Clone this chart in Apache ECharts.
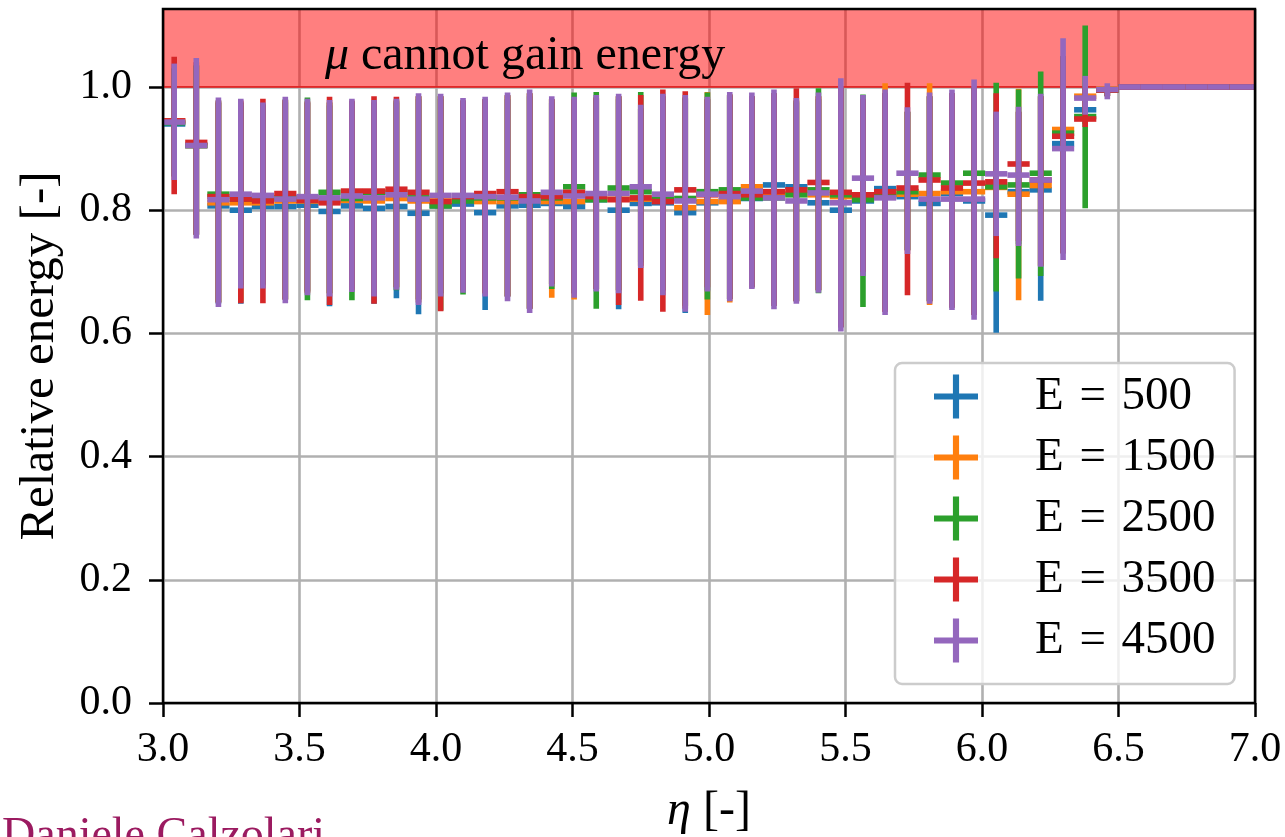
<!DOCTYPE html>
<html>
<head>
<meta charset="utf-8">
<script src="https://cdn.jsdelivr.net/npm/echarts@6/dist/echarts.min.js"></script>
<style>
  html, body { margin: 0; padding: 0; background: #ffffff; }
  #chart { width: 1285px; height: 837px; }
</style>
</head>
<body>
<div id="chart"></div>
<script>
// Bin centres in eta (43 bins over 3.0-6.5, then the saturated bins up to 7.0)
const etaCenters = [
  3.041, 3.122, 3.203, 3.285, 3.366, 3.448, 3.529, 3.610, 3.692, 3.773,
  3.855, 3.936, 4.017, 4.099, 4.180, 4.262, 4.343, 4.424, 4.506, 4.587,
  4.669, 4.750, 4.831, 4.913, 4.994, 5.076, 5.157, 5.238, 5.320, 5.401,
  5.483, 5.564, 5.645, 5.727, 5.808, 5.890, 5.971, 6.052, 6.134, 6.215,
  6.297, 6.378, 6.459,
  6.541, 6.622, 6.703, 6.785, 6.866, 6.948, 7.029
];
const binWidth = 0.0814;

const seriesNames = ['E\u2004=\u2004500', 'E\u2004=\u20041500', 'E\u2004=\u20042500', 'E\u2004=\u20043500', 'E\u2004=\u20044500'];
const seriesColors = ['#1f77b4', '#ff7f0e', '#2ca02c', '#d62728', '#9467bd'];

const yTicks = [0.0, 0.2, 0.4, 0.6, 0.8, 1.0];

// E = 500
const mid500 = [0.940, 0.905, 0.807, 0.800, 0.806, 0.806, 0.808, 0.798, 0.807, 0.803, 0.806, 0.795, 0.807, 0.810, 0.796, 0.807, 0.808, 0.811, 0.806, 0.817, 0.800, 0.811, 0.812, 0.796, 0.812, 0.815, 0.819, 0.841, 0.838, 0.812, 0.800, 0.815, 0.835, 0.822, 0.811, 0.827, 0.815, 0.792, 0.830, 0.833, 0.908, 0.963, 0.995, 1, 1, 1, 1, 1, 1, 1];
const lo500 = [0.855, 0.760, 0.648, 0.648, 0.680, 0.655, 0.668, 0.644, 0.672, 0.648, 0.657, 0.631, 0.665, 0.670, 0.638, 0.660, 0.640, 0.680, 0.665, 0.672, 0.639, 0.710, 0.670, 0.633, 0.670, 0.656, 0.675, 0.645, 0.652, 0.670, 0.610, 0.700, 0.635, 0.735, 0.652, 0.642, 0.630, 0.601, 0.745, 0.653, 0.730, 0.940, 0.985, 1, 1, 1, 1, 1, 1, 1];
const hi500 = [1.030, 1.035, 0.975, 0.970, 0.970, 0.975, 0.975, 0.970, 0.975, 0.970, 0.975, 0.980, 0.980, 0.975, 0.975, 0.980, 0.985, 0.975, 0.975, 0.980, 0.980, 0.965, 0.980, 0.980, 0.980, 0.985, 0.985, 0.990, 0.975, 0.980, 1.000, 0.980, 0.990, 0.960, 0.985, 0.990, 1.000, 0.950, 0.960, 0.985, 1.050, 0.990, 1.000, 1, 1, 1, 1, 1, 1, 1];

// E = 1500
const mid1500 = [0.945, 0.905, 0.812, 0.812, 0.812, 0.815, 0.815, 0.815, 0.816, 0.815, 0.819, 0.815, 0.815, 0.818, 0.814, 0.814, 0.818, 0.814, 0.814, 0.818, 0.818, 0.818, 0.818, 0.804, 0.814, 0.814, 0.838, 0.822, 0.827, 0.825, 0.822, 0.822, 0.825, 0.826, 0.827, 0.830, 0.830, 0.837, 0.826, 0.840, 0.931, 0.985, 0.997, 1, 1, 1, 1, 1, 1, 1];
const lo1500 = [0.855, 0.760, 0.650, 0.652, 0.680, 0.655, 0.668, 0.665, 0.672, 0.665, 0.675, 0.655, 0.665, 0.670, 0.665, 0.660, 0.640, 0.658, 0.655, 0.672, 0.670, 0.710, 0.670, 0.645, 0.630, 0.650, 0.675, 0.645, 0.652, 0.670, 0.610, 0.700, 0.635, 0.735, 0.646, 0.642, 0.630, 0.765, 0.654, 0.710, 0.730, 0.950, 0.985, 1, 1, 1, 1, 1, 1, 1];
const hi1500 = [1.030, 1.035, 0.975, 0.975, 0.970, 0.978, 0.975, 0.975, 0.975, 0.975, 0.978, 0.985, 0.985, 0.978, 0.980, 0.985, 0.990, 0.980, 0.980, 0.983, 0.985, 0.965, 0.985, 0.983, 0.992, 0.988, 0.985, 0.990, 0.978, 0.985, 1.000, 0.980, 1.006, 0.960, 1.006, 0.990, 1.000, 0.955, 0.997, 0.985, 1.050, 1.000, 1.000, 1, 1, 1, 1, 1, 1, 1];

// E = 2500
const mid2500 = [0.942, 0.905, 0.826, 0.818, 0.818, 0.820, 0.820, 0.829, 0.819, 0.829, 0.829, 0.820, 0.807, 0.815, 0.820, 0.820, 0.825, 0.820, 0.838, 0.817, 0.836, 0.830, 0.820, 0.819, 0.830, 0.833, 0.820, 0.820, 0.825, 0.833, 0.825, 0.817, 0.825, 0.830, 0.857, 0.844, 0.860, 0.838, 0.841, 0.860, 0.925, 0.952, 0.995, 1, 1, 1, 1, 1, 1, 1];
const lo2500 = [0.855, 0.760, 0.650, 0.678, 0.678, 0.655, 0.654, 0.665, 0.654, 0.665, 0.670, 0.655, 0.637, 0.663, 0.665, 0.660, 0.640, 0.672, 0.665, 0.640, 0.670, 0.715, 0.670, 0.645, 0.655, 0.656, 0.675, 0.645, 0.652, 0.665, 0.610, 0.643, 0.640, 0.735, 0.652, 0.642, 0.630, 0.668, 0.689, 0.693, 0.730, 0.803, 0.985, 1, 1, 1, 1, 1, 1, 1];
const hi2500 = [1.030, 1.035, 0.978, 0.975, 0.972, 0.980, 0.983, 0.975, 0.977, 0.975, 0.978, 0.985, 0.985, 0.978, 0.980, 0.987, 0.990, 0.980, 0.991, 0.992, 0.985, 0.992, 0.985, 0.983, 0.991, 0.988, 0.985, 0.990, 0.978, 0.998, 1.000, 0.988, 0.990, 0.960, 0.985, 0.990, 1.000, 1.007, 0.996, 1.025, 1.050, 1.100, 1.000, 1, 1, 1, 1, 1, 1, 1];

// E = 3500
const mid3500 = [0.945, 0.910, 0.822, 0.818, 0.815, 0.827, 0.816, 0.812, 0.831, 0.831, 0.834, 0.829, 0.814, 0.822, 0.827, 0.830, 0.822, 0.822, 0.829, 0.822, 0.817, 0.820, 0.814, 0.833, 0.825, 0.827, 0.825, 0.830, 0.833, 0.845, 0.829, 0.825, 0.830, 0.836, 0.849, 0.836, 0.844, 0.846, 0.875, 0.849, 0.920, 0.948, 0.995, 1, 1, 1, 1, 1, 1, 1];
const lo3500 = [0.826, 0.760, 0.650, 0.649, 0.649, 0.655, 0.665, 0.646, 0.670, 0.648, 0.675, 0.650, 0.636, 0.670, 0.665, 0.660, 0.640, 0.680, 0.665, 0.672, 0.646, 0.653, 0.635, 0.640, 0.675, 0.656, 0.675, 0.645, 0.652, 0.670, 0.610, 0.700, 0.635, 0.662, 0.652, 0.642, 0.630, 0.722, 0.750, 0.710, 0.730, 0.935, 0.985, 1, 1, 1, 1, 1, 1, 1];
const hi3500 = [1.049, 1.040, 0.978, 0.978, 0.981, 0.979, 0.977, 0.984, 0.978, 0.985, 0.984, 0.985, 0.985, 0.978, 0.980, 0.987, 0.990, 0.980, 0.980, 0.983, 0.985, 0.987, 0.996, 0.993, 0.980, 0.988, 0.985, 0.990, 0.998, 0.985, 1.000, 0.980, 0.990, 1.007, 0.985, 0.990, 1.000, 0.990, 0.960, 0.985, 1.050, 1.000, 1.000, 1, 1, 1, 1, 1, 1, 1];

// E = 4500
const mid4500 = [0.943, 0.905, 0.817, 0.826, 0.824, 0.818, 0.822, 0.820, 0.823, 0.820, 0.825, 0.818, 0.824, 0.824, 0.822, 0.821, 0.815, 0.829, 0.823, 0.827, 0.827, 0.838, 0.826, 0.815, 0.826, 0.822, 0.831, 0.820, 0.815, 0.828, 0.812, 0.852, 0.820, 0.860, 0.818, 0.818, 0.818, 0.859, 0.857, 0.849, 0.900, 0.982, 0.996, 1, 1, 1, 1, 1, 1, 1];
const lo4500 = [0.849, 0.754, 0.643, 0.673, 0.673, 0.649, 0.662, 0.660, 0.667, 0.660, 0.671, 0.646, 0.660, 0.666, 0.660, 0.652, 0.633, 0.676, 0.658, 0.668, 0.665, 0.706, 0.662, 0.635, 0.668, 0.652, 0.672, 0.639, 0.648, 0.666, 0.603, 0.693, 0.630, 0.729, 0.648, 0.638, 0.622, 0.758, 0.742, 0.708, 0.719, 0.955, 0.980, 1, 1, 1, 1, 1, 1, 1];
const hi4500 = [1.038, 1.047, 0.983, 0.981, 0.975, 0.984, 0.981, 0.979, 0.981, 0.979, 0.981, 0.990, 0.989, 0.982, 0.984, 0.991, 0.996, 0.985, 0.984, 0.987, 0.989, 0.971, 0.989, 0.987, 0.984, 0.992, 0.991, 0.996, 0.982, 0.991, 1.014, 0.987, 0.996, 0.967, 0.991, 0.996, 1.012, 0.960, 0.968, 0.989, 1.079, 1.018, 1.006, 1, 1, 1, 1, 1, 1, 1];

const mids = [mid500, mid1500, mid2500, mid3500, mid4500];
const los = [lo500, lo1500, lo2500, lo3500, lo4500];
const his = [hi500, hi1500, hi2500, hi3500, hi4500];

// Physical limit: relative energy above 1 is forbidden
const forbiddenFrom = 1.0;
const yMax = 1.1266;

const serif = '"Liberation Serif", "DejaVu Serif", serif';
const lineW = 5.6;

function errorBarItem(params, api) {
  const eta = api.value(0);
  const c = api.coord([eta, api.value(1)]);
  const yLo = api.coord([eta, api.value(2)])[1];
  const yHi = api.coord([eta, api.value(3)])[1];
  const halfW = api.size([binWidth, 0])[0] / 2;
  const fill = api.visual('color');
  return {
    type: 'group',
    children: [
      { type: 'rect', shape: { x: c[0] - lineW / 2, y: yHi, width: lineW, height: Math.max(yLo - yHi, 0) }, style: { fill: fill } },
      { type: 'rect', shape: { x: c[0] - halfW, y: c[1] - lineW / 2, width: 2 * halfW, height: lineW }, style: { fill: fill } }
    ]
  };
}

const errorSeries = seriesNames.map((name, k) => ({
  name: name,
  type: 'custom',
  clip: true,
  z: 3,
  itemStyle: { color: seriesColors[k] },
  renderItem: errorBarItem,
  encode: { x: 0, y: 1 },
  data: etaCenters.map((eta, i) => [eta, mids[k][i], los[k][i], his[k][i]])
}));

const zoneSeries = {
  name: 'zone',
  type: 'line',
  data: [],
  z: 2,
  silent: true,
  markArea: {
    silent: true,
    itemStyle: { color: 'rgba(255,0,0,0.5)', borderColor: 'rgba(225,20,20,0.75)', borderWidth: 2 },
    data: [[{ yAxis: forbiddenFrom }, { yAxis: yMax }]]
  },
  markPoint: {
    silent: true,
    symbol: 'rect',
    symbolSize: 0,
    data: [{ coord: [3.593, 1.049] }],
    label: {
      show: true,
      position: 'right',
      distance: 0,
      formatter: '{m|μ}{t|\u00a0cannot gain energy}',
      rich: {
        m: { fontFamily: serif, fontStyle: 'italic', fontSize: 48, color: '#000' },
        t: { fontFamily: serif, fontSize: 48, color: '#000' }
      }
    }
  }
};

const chart = echarts.init(document.getElementById('chart'), null, { renderer: 'canvas' });
chart.setOption({
  animation: false,
  backgroundColor: '#ffffff',
  color: seriesColors,
  grid: {
    left: 163, right: 30, top: 9, bottom: 134,
    outerBoundsMode: 'none',
    show: true, z: 5,
    borderColor: '#000', borderWidth: 2.5,
    backgroundColor: 'transparent'
  },
  legend: {
    data: seriesNames,
    orient: 'vertical',
    left: 895, top: 363,
    padding: [10, 19, 20, 39],
    itemWidth: 44, itemHeight: 44, itemGap: 14,
    icon: 'path://M0,4.3H10V5.7H0Z M4.3,0H5.7V10H4.3Z',
    backgroundColor: 'rgba(255,255,255,0.8)',
    borderColor: '#cccccc', borderWidth: 2.5, borderRadius: 7,
    textStyle: { fontFamily: serif, fontSize: 47, lineHeight: 44, color: '#000', padding: [0, 0, 0, 52] }
  },
  xAxis: {
    type: 'value',
    min: 3, max: 7, interval: 0.5,
    name: '{e|η} [-]',
    nameLocation: 'middle',
    nameGap: 84,
    nameTextStyle: {
      fontFamily: serif, fontSize: 48, color: '#000',
      rich: { e: { fontFamily: serif, fontStyle: 'italic', fontSize: 48, color: '#000' } }
    },
    axisLine: { show: false },
    axisTick: { show: true, inside: false, length: 14, lineStyle: { color: '#000', width: 2.5 } },
    axisLabel: { fontFamily: serif, fontSize: 42, color: '#000', margin: 26, formatter: v => v.toFixed(1) },
    splitLine: { show: true, lineStyle: { color: '#b0b0b0', width: 2.6 } }
  },
  yAxis: {
    type: 'value',
    min: 0, max: yMax, interval: 0.2,
    name: 'Relative energy [-]',
    nameLocation: 'middle',
    nameGap: 98,
    nameRotate: 90,
    nameTextStyle: { fontFamily: serif, fontSize: 49, color: '#000' },
    axisLine: { show: false },
    axisTick: { show: true, inside: false, length: 14, customValues: yTicks, lineStyle: { color: '#000', width: 2.5 } },
    axisLabel: { fontFamily: serif, fontSize: 42, color: '#000', margin: 31, customValues: yTicks, formatter: v => v.toFixed(1) },
    splitLine: { show: true, lineStyle: { color: '#b0b0b0', width: 2.6 } }
  },
  graphic: [{
    type: 'text',
    left: 2, top: 814,
    style: { text: 'Daniele Calzolari', fontFamily: serif, fontSize: 46, fill: '#9b1a60' }
  }],
  series: [zoneSeries].concat(errorSeries)
});
</script>
</body>
</html>
